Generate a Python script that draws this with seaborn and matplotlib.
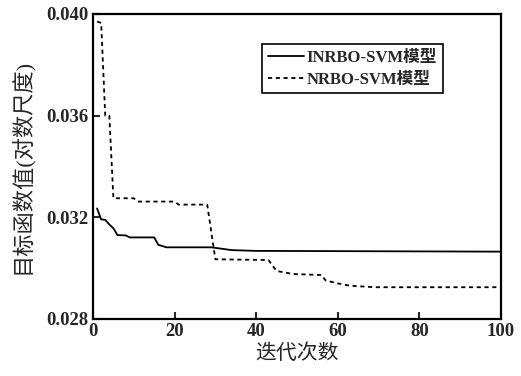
import matplotlib
matplotlib.use("Agg")
import matplotlib.pyplot as plt
import seaborn as sns
import pandas as pd

# INRBO-SVM 收敛曲线
iter_inrbo = [1, 2, 3, 4, 5, 6, 8, 9, 15, 16, 18, 29, 34, 40, 100]
val_inrbo = [0.03235, 0.03192, 0.03190, 0.03172, 0.03157, 0.03130, 0.03129, 0.03121,
             0.03121, 0.03092, 0.03082, 0.03082, 0.03071, 0.03068, 0.03065]

# NRBO-SVM 收敛曲线
iter_nrbo = [1, 2, 3, 4, 5, 10, 11, 20, 21, 28, 30, 43, 45, 49, 56, 57, 60, 63, 69, 100]
val_nrbo = [0.0397, 0.03965, 0.0360, 0.0360, 0.03275, 0.03275, 0.03262, 0.03262, 0.03250,
            0.03250, 0.03035, 0.03032, 0.02989, 0.02977, 0.02973, 0.02952, 0.02940,
            0.02931, 0.02925, 0.02925]

labels = ['INRBO-SVM模型', 'NRBO-SVM模型']
xticks = [0, 20, 40, 60, 80, 100]
yticks = [0.028, 0.032, 0.036, 0.040]

sns.set_style("ticks")
fam = ['Liberation Serif', 'Noto Sans CJK SC']
plt.rcParams['font.family'] = fam

fig = plt.figure(figsize=(5.21, 3.76), dpi=100)
ax = fig.add_axes([0.1785, 0.1516, 0.783, 0.8112])

sns.lineplot(x=iter_inrbo, y=val_inrbo, ax=ax, color='black', lw=1.3,
             estimator=None, sort=False, label=labels[0])
sns.lineplot(x=iter_nrbo, y=val_nrbo, ax=ax, color='black', lw=1.3,
             estimator=None, sort=False, label=labels[1], linestyle=(0, (2.3, 2.0)))

ax.set_xlim(0, 100)
ax.set_ylim(0.028, 0.040)
ax.set_xticks(xticks)
ax.set_yticks(yticks)
ax.set_xticklabels([str(t) for t in xticks], fontsize=13.5, fontweight='bold')
ax.set_yticklabels(['%.3f' % t for t in yticks], fontsize=13.5, fontweight='bold')
ax.tick_params(direction='in', length=5, width=1.5, pad=3)
for s in ax.spines.values():
    s.set_linewidth(1.6)
    s.set_color('black')

ax.set_xlabel('迭代次数', fontsize=15, labelpad=3)
ax.set_ylabel('目标函数值(对数尺度)', fontsize=16, labelpad=9)

leg = ax.legend(loc='upper left', bbox_to_anchor=(0.414, 0.902), borderaxespad=0,
                fancybox=False, frameon=True, edgecolor='black', framealpha=1,
                prop={'family': fam, 'size': 12, 'weight': 'bold'},
                handlelength=2.2, handletextpad=0.15, borderpad=0.35, labelspacing=0.35)
leg.get_frame().set_linewidth(1.2)

fig.savefig('out.png', dpi=100)
